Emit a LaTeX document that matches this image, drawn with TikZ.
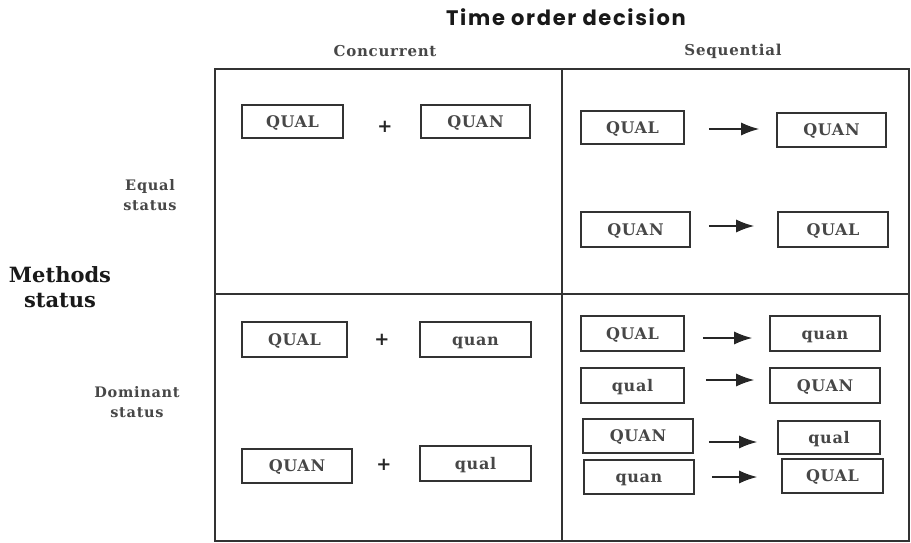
\documentclass[tikz,border=0pt]{standalone}
\usepackage{fontspec}
\setmainfont{DejaVu Serif}
\newfontfamily\headfont[LetterSpace=8]{Poppins}
\newfontfamily\boxfont[LetterSpace=4]{DejaVu Serif}
\newfontfamily\labfont[LetterSpace=5]{DejaVu Serif}
\newfontfamily\symfont{DejaVu Sans}
\usetikzlibrary{arrows.meta}

\tikzset{
  frame/.style={line width=2pt, draw=black!80},
  mbox/.style={draw=black!80, line width=1.6pt, inner sep=0pt,
    text height=11.5pt, text depth=0pt,
    font=\boxfont\bfseries\fontsize{16}{18}\selectfont, text=black!72},
  plusmark/.style={inner sep=0pt, font=\symfont\bfseries\fontsize{18}{18}\selectfont, text=black!85},
  arr/.style={-{Latex[length=18pt,width=13pt]}, line width=1.5pt, draw=black!85},
  colhead/.style={font=\labfont\bfseries\fontsize{15}{17}\selectfont, text=black!72},
  rowhead/.style={align=center, font=\labfont\bfseries\fontsize{14.5}{20}\selectfont, text=black!72},
}

\begin{document}
\begin{tikzpicture}[x=1pt, y=-1pt]
  \useasboundingbox (0,0) rectangle (911,543);

  % headings
  \node[font=\headfont\bfseries\fontsize{21}{22}\selectfont, text=black!90] (title) at (566,17) {Time order decision};
  \node[colhead] (conc) at (385,51) {Concurrent};
  \node[colhead] (seq) at (733,51) {Sequential};
  \node[rowhead] (equal) at (150,195) {Equal\\status};
  \node[rowhead] (dom) at (137,402) {Dominant\\status};
  \node[align=center, font=\bfseries\fontsize{21}{25}\selectfont, text=black!90] (meth) at (60,287) {Methods\\status};

  % 2x2 grid
  \draw[frame] (215,69) rectangle (909,541);
  \draw[frame] (562,69) -- (562,541);
  \draw[frame] (215,294) -- (909,294);

  % concurrent, equal status
  \node[mbox, minimum width=101pt, minimum height=33pt] (a1) at (292.5,121.5) {QUAL};
  \node[plusmark] (p1) at (385,127) {+};
  \node[mbox, minimum width=109pt, minimum height=33pt] (a2) at (475.5,121.5) {QUAN};

  % concurrent, dominant status
  \node[mbox, minimum width=105pt, minimum height=35pt] (b1) at (294.5,339.5) {QUAL};
  \node[plusmark] (p2) at (382,340) {+};
  \node[mbox, minimum width=111pt, minimum height=35pt] (b2) at (475.5,339.5) {quan};
  \node[mbox, minimum width=110pt, minimum height=34pt] (b3) at (297,466) {QUAN};
  \node[plusmark] (p3) at (384,465) {+};
  \node[mbox, minimum width=111pt, minimum height=35pt] (b4) at (475.5,463.5) {qual};

  % sequential, equal status
  \node[mbox, minimum width=103pt, minimum height=33pt] (c1) at (632.5,127.5) {QUAL};
  \node[mbox, minimum width=109pt, minimum height=34pt] (c2) at (831.5,130) {QUAN};
  \node[mbox, minimum width=109pt, minimum height=35pt] (c3) at (635.5,229.5) {QUAN};
  \node[mbox, minimum width=110pt, minimum height=35pt] (c4) at (833,229.5) {QUAL};
  \draw[arr, shorten <=24pt, shorten >=17pt] ([yshift=-1.5pt]c1.east) -- ([yshift=1pt]c2.west);
  \draw[arr, shorten <=18pt, shorten >=23pt] ([yshift=3.5pt]c3.east) -- ([yshift=3.5pt]c4.west);

  % sequential, dominant status
  \node[mbox, minimum width=103pt, minimum height=35pt] (d1) at (632.5,333.5) {QUAL};
  \node[mbox, minimum width=110pt, minimum height=35pt] (d2) at (825,333.5) {quan};
  \node[mbox, minimum width=103pt, minimum height=35pt] (d3) at (632.5,385.5) {qual};
  \node[mbox, minimum width=110pt, minimum height=35pt] (d4) at (825,385.5) {QUAN};
  \node[mbox, minimum width=110pt, minimum height=34pt] (d5) at (638,436) {QUAN};
  \node[mbox, minimum width=102pt, minimum height=33pt] (d6) at (829,437.5) {qual};
  \node[mbox, minimum width=110pt, minimum height=34pt] (d7) at (639,477) {quan};
  \node[mbox, minimum width=101pt, minimum height=34pt] (d8) at (832.5,476) {QUAL};
  \draw[arr, shorten <=18pt, shorten >=17pt] ([yshift=-4.5pt]d1.east) -- ([yshift=-4.5pt]d2.west);
  \draw[arr, shorten <=21pt, shorten >=15pt] ([yshift=5.5pt]d3.east) -- ([yshift=5.5pt]d4.west);
  \draw[arr, shorten <=15pt, shorten >=20pt] ([yshift=-6pt]d5.east) -- ([yshift=-4.5pt]d6.west);
  \draw[arr, shorten <=17pt, shorten >=24pt] ([yshift=0pt]d7.east) -- ([yshift=-1pt]d8.west);
\end{tikzpicture}
\end{document}
